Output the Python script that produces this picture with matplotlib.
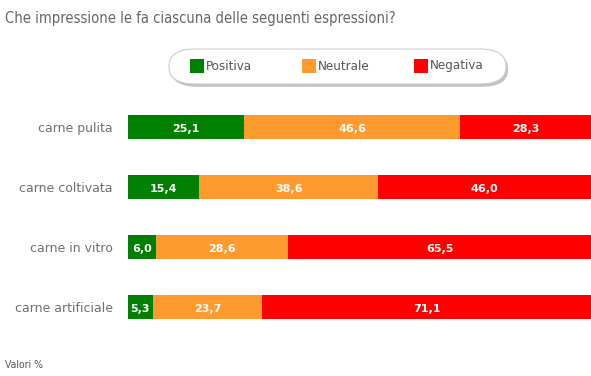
import matplotlib
matplotlib.use("Agg")
import matplotlib.pyplot as plt
from matplotlib.patches import FancyBboxPatch, Rectangle
import matplotlib.patheffects as pe

# dati
categories = ["carne pulita", "carne coltivata", "carne in vitro", "carne artificiale"]
positiva = [25.1, 15.4, 6.0, 5.3]
neutrale = [46.6, 38.6, 28.6, 23.7]
negativa = [28.3, 46.0, 65.5, 71.1]
series_names = ["Positiva", "Neutrale", "Negativa"]
colors = ["#008000", "#FF9A2E", "#FF0000"]

narrow = ["DejaVu Sans"]

fig = plt.figure(figsize=(5.91, 3.76), dpi=100)
ax = fig.add_axes([128 / 591, 1 - 337 / 376, 463 / 591, 240 / 376])

left = [0.0] * len(categories)
for vals, col in zip([positiva, neutrale, negativa], colors):
    bars = ax.barh(range(len(categories)), vals, left=left, height=0.4, color=col)
    for b, v in zip(bars, vals):
        ax.text(b.get_x() + b.get_width() / 2, b.get_y() + b.get_height() / 2 + 0.03,
                f"{v:.1f}".replace(".", ","), ha="center", va="center",
                color="white", fontsize=8, fontweight="bold")
    left = [l + v for l, v in zip(left, vals)]

ax.set_xlim(0, 100)
ax.set_ylim(3.5, -0.5)
ax.set_yticks(range(len(categories)))
ax.set_yticklabels(categories, fontsize=9, color="#707070")
ax.tick_params(axis="y", length=0, pad=11)
ax.set_xticks([])
for s in ax.spines.values():
    s.set_visible(False)

# titolo e nota
fig.text(5 / 591, 1 - 19 / 376, "Che impressione le fa ciascuna delle seguenti espressioni?",
         family=narrow, stretch="condensed", fontsize=10.5, color="#666666", va="center", ha="left")
fig.text(5 / 591, 1 - 365 / 376, "Valori %", family=narrow, stretch="condensed", fontsize=7.5,
         color="#555555", va="center", ha="left")

# legenda con riquadro arrotondato
box = FancyBboxPatch((169 / 591, 1 - 84 / 376), 337 / 591, 35 / 376,
                     boxstyle="round,pad=0,rounding_size=0.045",
                     transform=fig.transFigure, facecolor="white",
                     edgecolor="#CCCCCC", linewidth=0.8,
                     path_effects=[pe.SimplePatchShadow(offset=(1.5, -2), shadow_rgbFace="#999999", alpha=0.6),
                                   pe.Normal()])
fig.patches.append(box)
leg_x = [190, 302, 414]
for x, name, col in zip(leg_x, series_names, colors):
    fig.patches.append(Rectangle((x / 591, 1 - 73 / 376), 14 / 591, 14 / 376,
                                 transform=fig.transFigure, facecolor=col, edgecolor="none"))
    fig.text((x + 16) / 591, 1 - 66 / 376, name, family=narrow, stretch="condensed", fontsize=9.5,
             color="#555555", va="center", ha="left")

fig.savefig("out.png", dpi=100)
